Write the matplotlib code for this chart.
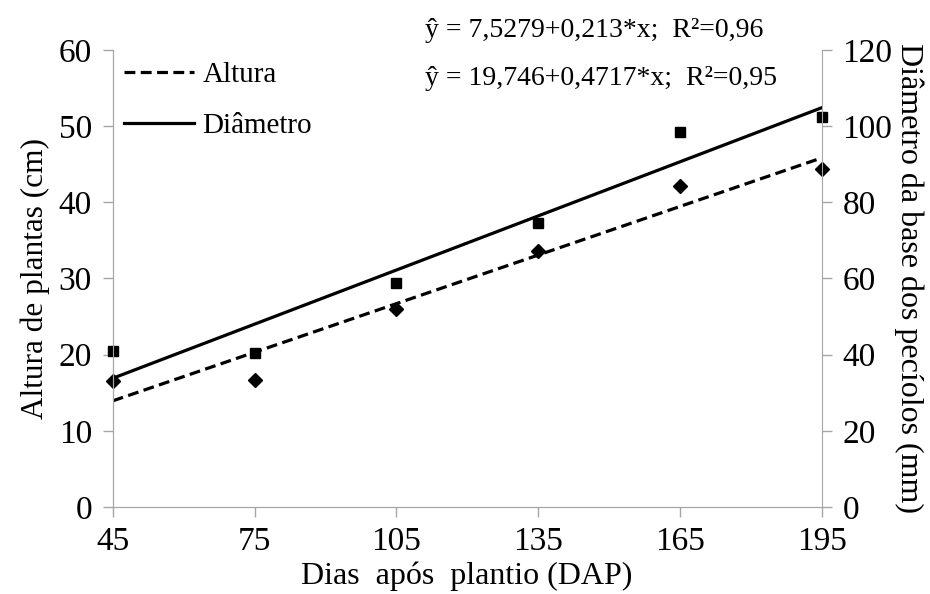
import numpy as np
import matplotlib.pyplot as plt

# ----------------------------
# Data
# ----------------------------
dias = [45, 75, 105, 135, 165, 195]
altura = [16.5, 16.7, 26.0, 33.6, 42.1, 44.4]          # cm, left axis
diametro = [41.0, 40.4, 58.9, 74.7, 98.4, 102.5]       # mm, right axis

x_ticks = [45, 75, 105, 135, 165, 195]
eq_altura = "ŷ = 7,5279+0,213*x;  R²=0,96"
eq_diametro = "ŷ = 19,746+0,4717*x;  R²=0,95"

plt.rcParams['font.family'] = ['Liberation Serif', 'DejaVu Serif']
gray = '#a6a6a6'

fig = plt.figure(figsize=(9.3, 5.94), dpi=100)
ax = fig.add_axes([0.1212, 0.1465, 0.7623, 0.7693])
ax2 = ax.twinx()

x = np.array(dias, dtype=float)
xs = np.array([x.min(), x.max()])

# linear fits
a1, b1 = np.polyfit(x, altura, 1)
a2, b2 = np.polyfit(x, diametro, 1)

ax.plot(xs, a1 * xs + b1, color='black', lw=2.3, ls=(0, (3.4, 1.7)), label='Altura')
ax2.plot(xs, a2 * xs + b2, color='black', lw=2.3, ls='-', label='Diâmetro')
ax.plot(x, altura, 'D', color='black', ms=7, clip_on=False)
ax2.plot(x, diametro, 's', color='black', ms=7, clip_on=False)

ax.set_xlim(45, 195)
ax.set_ylim(0, 60)
ax2.set_ylim(0, 120)
ax.set_xticks(x_ticks)
ax.set_yticks(range(0, 61, 10))
ax2.set_yticks(range(0, 121, 20))

for a in (ax, ax2):
    for side in ('left', 'right', 'bottom', 'top'):
        a.spines[side].set_color(gray)
    a.spines['top'].set_visible(False)
    a.tick_params(colors=gray, labelcolor='black', labelsize=24, length=7, width=1)
ax.spines['right'].set_visible(False)
ax.tick_params(axis='y', pad=8)
ax2.tick_params(axis='y', pad=8)
ax.tick_params(axis='x', pad=7)

ax.set_xlabel("Dias  após  plantio (DAP)", fontsize=23, labelpad=3)
ax.set_ylabel("Altura de plantas (cm)", fontsize=22.5, labelpad=6)
ax2.set_ylabel("Diâmetro da base dos pecíolos (mm)", fontsize=23,
               rotation=270, labelpad=22)

# legend (lines only)
h1, l1 = ax.get_legend_handles_labels()
h2, l2 = ax2.get_legend_handles_labels()
ax.legend(h1[:1] + h2[:1], l1[:1] + l2[:1], loc='upper left', frameon=False,
          fontsize=21, handlelength=2.4, handletextpad=0.28, labelspacing=0.85,
          borderaxespad=0.0, bbox_to_anchor=(0.0, 1.0))

fig.text(0.457, 0.948, eq_altura, fontsize=20, va='center')
fig.text(0.457, 0.868, eq_diametro, fontsize=20, va='center')

fig.savefig("out.png", dpi=100)
